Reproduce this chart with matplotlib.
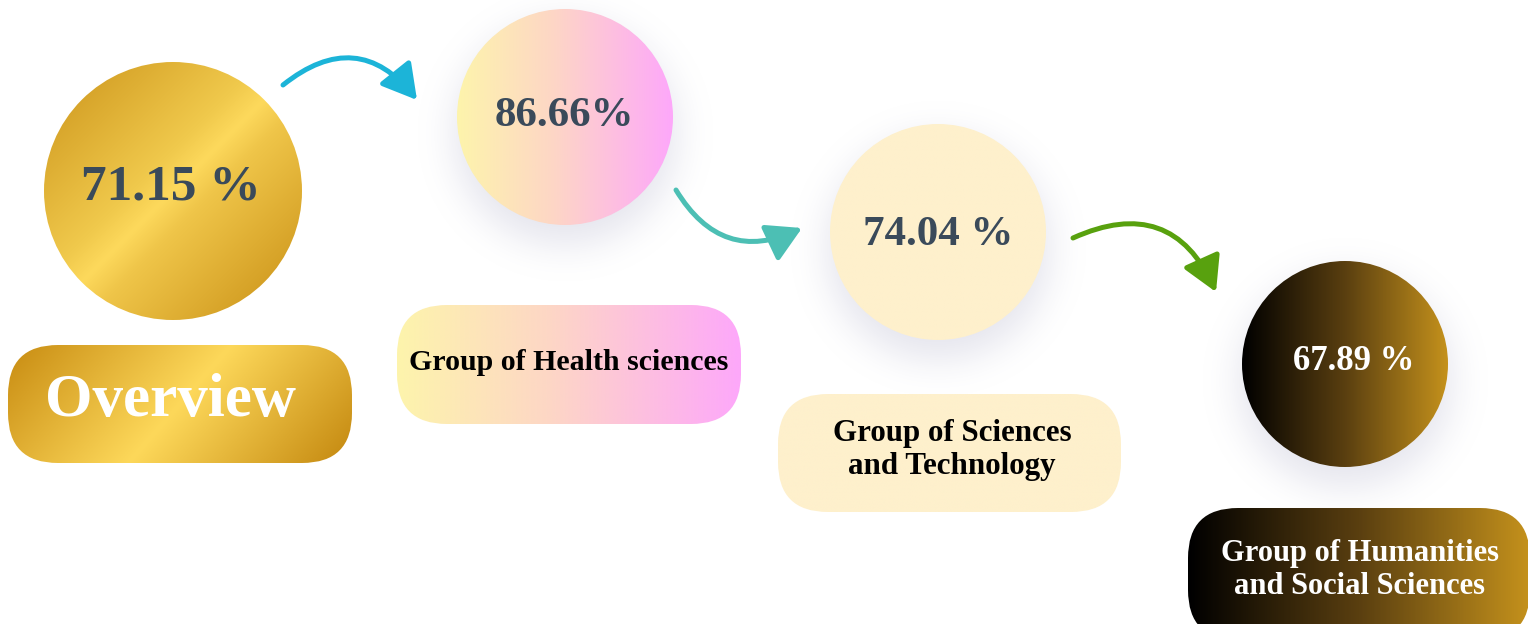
import numpy as np
import matplotlib
matplotlib.use('Agg')
import matplotlib.pyplot as plt
from matplotlib.patches import Circle, FancyBboxPatch, FancyArrowPatch
from matplotlib.colors import LinearSegmentedColormap, to_rgb

# ---- data ----
values = [71.15, 86.66, 74.04, 67.89]
pct_suffix = [' %', '%', ' %', ' %']
group_labels = ['Overview', 'Group of Health sciences',
                'Group of Sciences\nand Technology',
                'Group of Humanities\nand Social Sciences']

# ---- layout (pixel coords, y down) ----
circle_xy = [(173, 191), (565, 117), (938, 232), (1345, 364)]
circle_r = [129, 108, 108, 103]
text_xy = [(171, 188), (564, 116), (938, 235), (1354, 361)]
pill_box = [(8, 345, 352, 463), (397, 305, 741, 424),
            (778, 394, 1121, 512), (1188, 508, 1530, 640)]
label_xy = [(170, 401), (569, 362), (952, 450), (1360, 570)]
arrows = [((283, 85), (417, 100), -0.5, '#1cb4d8'),
          ((676, 190), (802, 228), 0.45, '#4cbfb4'),
          ((1073, 238), (1216, 292), -0.5, '#58a10e')]

# styles per item
gold = [(0, '#cb931a'), (0.42, '#f0c94c'), (0.5, '#fdd95c'), (0.58, '#efc549'), (1, '#c88e14')]
gold_pill = [(0, '#c88c12'), (0.5, '#fdd85a'), (1, '#c4880f')]
pink = [(0, '#fdf4ac'), (0.45, '#fdd6c6'), (1, '#fda8fa')]
cream = [(0, '#fef0cc'), (1, '#fef0cc')]
dark = [(0, '#000000'), (0.5, '#5a3f10'), (1, '#c4911c')]
circle_fill = [(gold, (1, 1)), (pink, (1, 0)), (cream, (1, 0)), (dark, (1, 0))]
pill_fill = [(gold_pill, (1, 0.3)), (pink, (1, 0)), (cream, (1, 0)), (dark, (1, 0))]
pct_color = ['#3a4a5a', '#3a4a5a', '#3a4a5a', 'white']
pct_size = [37, 31, 31, 25]
lab_color = ['white', 'black', 'black', 'white']
lab_size = [44, 21.5, 22.3, 22]
serif = ['Liberation Serif', 'DejaVu Serif']

W, H = 1528, 624
fig = plt.figure(figsize=(W / 100, H / 100), dpi=100)
ax = fig.add_axes([0, 0, 1, 1])


def gradient_image(stops, direction, n=200):
    cmap = LinearSegmentedColormap.from_list('g', [(p, to_rgb(c)) for p, c in stops])
    yy, xx = np.mgrid[0:1:n * 1j, 0:1:n * 1j]
    dx, dy = direction
    t = xx * dx + yy * dy
    t = (t - t.min()) / (t.max() - t.min() + 1e-9)
    return cmap(t)


def fill_patch(patch, stops, direction, extent):
    ax.add_patch(patch)
    patch.set_facecolor('none')
    patch.set_edgecolor('none')
    im = ax.imshow(gradient_image(stops, direction), extent=extent,
                   origin='upper', interpolation='bilinear', zorder=patch.get_zorder())
    im.set_clip_path(patch)


# soft shadows under circles 2-4
mask = np.zeros((H, W))
yy, xx = np.mgrid[0:H, 0:W]
for (cx, cy), r in zip(circle_xy[1:], circle_r[1:]):
    mask[(xx - cx) ** 2 + (yy - cy - 16) ** 2 <= (r + 4) ** 2] = 1
sig = 18
k = np.exp(-0.5 * (np.arange(-3 * sig, 3 * sig + 1) / sig) ** 2)
k /= k.sum()
blur = np.apply_along_axis(lambda v: np.convolve(v, k, mode='same'), 1, mask)
blur = np.apply_along_axis(lambda v: np.convolve(v, k, mode='same'), 0, blur)
shadow = np.zeros((H, W, 4))
shadow[..., :3] = to_rgb('#8a8ab0')
shadow[..., 3] = blur * 0.22
ax.imshow(shadow, extent=(0, W, H, 0), origin='upper', zorder=1)

for i, v in enumerate(values):
    cx, cy = circle_xy[i]
    r = circle_r[i]
    stops, d = circle_fill[i]
    fill_patch(Circle((cx, cy), r, zorder=2), stops, d, (cx - r, cx + r, cy + r, cy - r))
    ax.text(*text_xy[i], f'{v:.2f}{pct_suffix[i]}', ha='center', va='center',
            fontsize=pct_size[i], fontweight='bold', color=pct_color[i],
            family=serif, zorder=4)

    x0, y0, x1, y1 = pill_box[i]
    stops, d = pill_fill[i]
    pill = FancyBboxPatch((x0, y0), x1 - x0, y1 - y0,
                          boxstyle='round,pad=0,rounding_size=50', zorder=2)
    fill_patch(pill, stops, d, (x0, x1, y1, y0))
    ax.text(*label_xy[i], group_labels[i],
            ha='center', va='center', fontsize=lab_size[i], fontweight='bold',
            color=lab_color[i], family=serif, linespacing=1.2, zorder=4)

for a, b, rad, col in arrows:
    ax.add_patch(FancyArrowPatch(a, b, connectionstyle=f'arc3,rad={rad}',
                                 arrowstyle='-|>,head_length=21,head_width=12',
                                 mutation_scale=1, lw=3.6, color=col,
                                 shrinkA=0, shrinkB=0, zorder=3))

ax.set_xlim(0, W)
ax.set_ylim(H, 0)
ax.axis('off')
fig.savefig('out.png', dpi=100, facecolor='white')
